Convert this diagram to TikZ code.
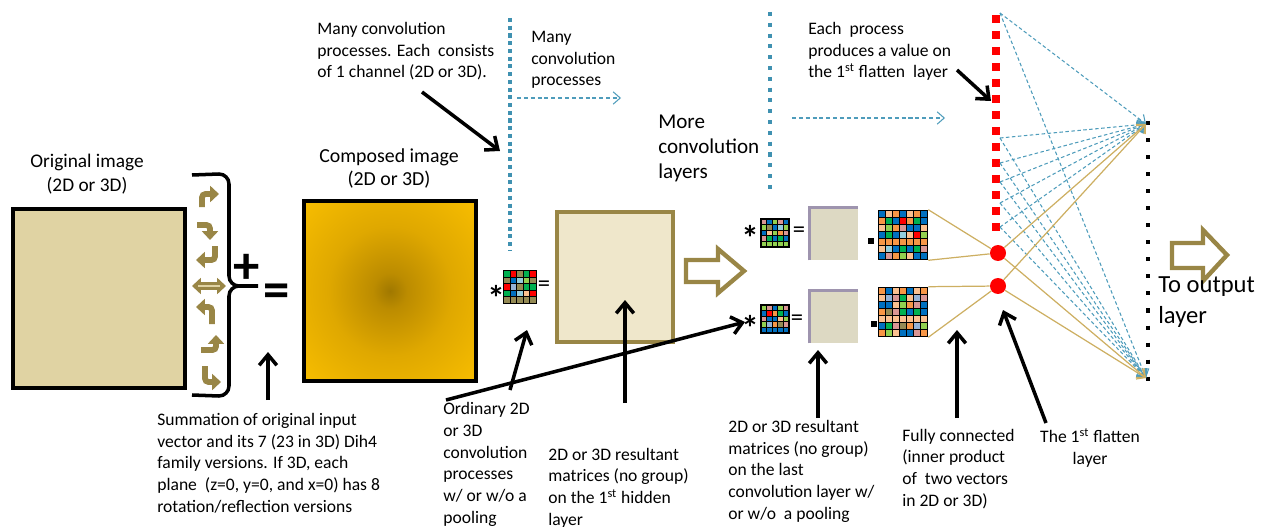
\documentclass[tikz,border=0pt]{standalone}
\usepackage{fontspec}
\setmainfont{Carlito}
\usetikzlibrary{arrows.meta, positioning}

\definecolor{origfill}{HTML}{E0D3A3}
\definecolor{hidfill}{HTML}{EFE7CB}
\definecolor{lastfill}{HTML}{DDD9C3}
\definecolor{lastedge}{HTML}{9E94AE}
\definecolor{olivec}{HTML}{998646}
\definecolor{tanline}{HTML}{CDAF62}
\definecolor{dotblue}{HTML}{3F91B1}
\definecolor{dashblue}{HTML}{4E9CBB}
\definecolor{goldA}{HTML}{A07800}
\definecolor{goldB}{HTML}{BC8C00}
\definecolor{goldC}{HTML}{DFA800}
\definecolor{goldD}{HTML}{F7BD00}
\definecolor{gc0}{HTML}{0070C0}
\definecolor{gc1}{HTML}{00B050}
\definecolor{gc2}{HTML}{D99694}
\definecolor{gc3}{HTML}{948A54}
\definecolor{gc4}{HTML}{F79646}
\definecolor{gc5}{HTML}{95B3D7}
\definecolor{gc6}{HTML}{92D050}
\definecolor{gc7}{HTML}{FF0000}
\definecolor{gc8}{HTML}{FAC090}
\definecolor{gc9}{HTML}{93CDDD}
\definecolor{gc10}{HTML}{0070C0}
\definecolor{gc11}{HTML}{00B050}

\pgfdeclareradialshading{composed}{\pgfpoint{0bp}{0bp}}{color(0bp)=(goldA); color(5bp)=(goldB); color(18bp)=(goldC); color(35bp)=(goldD); color(50bp)=(goldD)}

\tikzstyle{note} = [font=\fontsize{10}{12.3}\selectfont, align=left, inner sep=0pt, anchor=base west]
\tikzstyle{pointer} = [line width=2pt, -{Straight Barb[length=6pt,width=10pt]}]
\tikzstyle{flow} = [dashblue, dash pattern=on 2.3pt off 1.6pt, line width=0.6pt, -{Straight Barb[length=4pt,width=7pt]}]
\tikzstyle{fcdash} = [dashblue, dash pattern=on 2pt off 1.4pt, line width=0.6pt, -{Straight Barb[length=4pt,width=7pt]}]
\tikzstyle{fcline} = [tanline, line width=0.7pt]
\tikzstyle{sqbox} = [draw=black, line width=2.4pt, inner sep=0pt]
\tikzstyle{icon} = [olivec, line width=3.3pt, rounded corners=2pt, -{Triangle[length=5pt,width=9pt]}]

% colour grid: name, centre x, centre y, cells, cell size, seed
\newcommand{\colorgrid}[6]{%
  \pgfmathsetmacro\gridhalf{#4*#5/2}
  \pgfmathsetmacro\gridsize{#4*#5*0.02}
  \foreach \gi in {1,...,#4} {
    \foreach \gj in {1,...,#4} {
      \pgfmathtruncatemacro\gk{mod(\gi*7+\gj*3+\gi*\gj+#6,12)}
      \filldraw[fill=gc\gk, draw=black, line width=0.5pt] ({#2-\gridhalf+(\gi-1)*#5},{#3-\gridhalf+(\gj-1)*#5}) rectangle ++(#5,#5);
    }
  }
  \node[draw=black, line width=0.9pt, inner sep=0pt, minimum size=\gridsize cm] (#1) at (#2,#3) {};
}

\begin{document}
\begin{tikzpicture}[x=0.02cm, y=-0.02cm]
        \useasboundingbox (0,0) rectangle (1265,527);

        % Input and composed image
        \node[sqbox, fill=origfill, minimum width=3.44cm, minimum height=3.58cm] (orig) at (99,298.5) {};
        \node[font=\fontsize{11}{13.7}\selectfont, align=center, inner sep=0pt, anchor=base] (origlbl) at (87,192) {Original image\\(2D or 3D)};
        \node[sqbox, shade, shading=composed, minimum width=3.44cm, minimum height=3.6cm] (comp) at (390,291) {};
        \node[font=\fontsize{11.3}{13.1}\selectfont, align=center, inner sep=0pt, anchor=base] (complbl) at (389,186) {Composed image\\(2D or 3D)};

        % Dih4 family icons
        \draw[icon] (202,207) -- (202,194) -- (219,194);
        \draw[icon] (197,225) -- (210,225) -- (210,240);
        \draw[icon] (215,246) -- (215,260) -- (196,260);
        \draw[olivec, line width=4.5pt, {Triangle[length=5pt,width=9pt]}-{Triangle[length=5pt,width=9pt]}] (192,286) -- (226,286);
        \draw[origfill, line width=1.2pt] (198,286) -- (220,286);
        \draw[icon] (212,324) -- (212,307) -- (196,307);
        \draw[icon] (201,350) -- (216,350) -- (216,335);
        \draw[icon] (205,366) -- (205,382) -- (221,382);

        % Brace, plus and equals
        \draw[line width=2pt] (192,175) -- (219,174) to[out=0,in=90] (229,184) -- (229,276) to[out=-90,in=180] (239,286) -- (258,286);
        \draw[line width=2pt] (239,286) to[out=180,in=90] (229,296) -- (229,386) to[out=-90,in=0] (219,396) -- (192,395);
        \node[font=\fontsize{30}{30}\selectfont\bfseries, inner sep=0pt] (plus) at (247,269) {+};
        \node[font=\fontsize{30}{30}\selectfont\bfseries, inner sep=0pt] (equal) at (277,296) {=};

        % First convolution
        \draw[dotblue, line width=2.3pt, dash pattern=on 2.3pt off 2.1pt] (510,18) -- (510,250);
        \colorgrid{kern0}{520}{287}{5}{6.6}{0}
        \node[font=\fontsize{20}{20}\selectfont\bfseries, inner sep=0pt] (star0) at (496,298) {*};
        \node[font=\fontsize{14}{14}\selectfont, inner sep=0pt] (eq0) at (544,286) {=};
        \node[draw=olivec, line width=2.6pt, fill=hidfill, minimum width=2.32cm, minimum height=2.6cm] (hidden) at (615,277) {};
        \draw[olivec, line width=2.5pt, fill=white] (686,260) -- (718,260) -- (718,249) -- (744,271) -- (718,293) -- (718,282) -- (686,282) -- cycle;

        % Last convolution layer
        \draw[dotblue, line width=2.3pt, dash pattern=on 2.3pt off 3.85pt] (770,12) -- (770,190);
        \colorgrid{kern1}{775}{233}{5}{5.7}{3}
        \colorgrid{kern2}{775}{319}{5}{5.7}{7}
        \node[font=\fontsize{20}{20}\selectfont\bfseries, inner sep=0pt] (star1) at (750,238) {*};
        \node[font=\fontsize{20}{20}\selectfont\bfseries, inner sep=0pt] (star2) at (750,328) {*};
        \node[font=\fontsize{14}{14}\selectfont, inner sep=0pt] (eq1) at (799,232) {=};
        \node[font=\fontsize{14}{14}\selectfont, inner sep=0pt] (eq2) at (797,320) {=};
        \node[fill=lastfill, inner sep=0pt, minimum width=0.96cm, minimum height=1.04cm] (last1) at (834,234) {};
        \node[fill=lastfill, inner sep=0pt, minimum width=0.96cm, minimum height=1.04cm] (last2) at (834,317) {};
        \draw[lastedge, line width=1.6pt] (last1.south west) -- (last1.north west) -- (last1.north east);
        \draw[lastedge, line width=1.6pt] (last2.south west) -- (last2.north west) -- (last2.north east);
        \node[fill=black, inner sep=0pt, minimum size=0.11cm] (dot1) at (871,241) {};
        \node[fill=black, inner sep=0pt, minimum size=0.11cm] (dot2) at (874,324) {};
        \colorgrid{flat1}{903}{235}{7}{7}{1}
        \colorgrid{flat2}{903}{312}{7}{7}{5}

        % Flatten layer and output
        \draw[red, line width=4.5pt, dash pattern=on 4.55pt off 4.55pt] (996,15) -- (996,232);
        \node[circle, fill=red, inner sep=0pt, minimum size=0.32cm] (neu1) at (998,253) {};
        \node[circle, fill=red, inner sep=0pt, minimum size=0.32cm] (neu2) at (998,286) {};
        \draw[black, line width=2.3pt, dash pattern=on 2.3pt off 7.4pt] (1148,121) -- (1148,382);
        \coordinate (outtop) at (1146,124);
        \coordinate (outbot) at (1146,378);
        \foreach \n/\y in {a/13, b/138, c/163, d/182, e/203, f/227}
            \coordinate (fl\n) at (1000,\y);
        \foreach \n in {a,b,c,d,e,f} {
            \draw[fcdash] (fl\n) -- (outtop);
            \draw[fcdash] (fl\n) -- (outbot);
        }
        \draw[fcline] (flat1.north east) -- (neu1);
        \draw[fcline] (flat1.south east) -- (neu1);
        \draw[fcline] (flat2.north east) -- (neu2);
        \draw[fcline] (flat2.south east) -- (neu2);
        \foreach \n in {neu1, neu2} {
            \draw[fcline, -{Straight Barb[length=4pt,width=7pt]}] (\n) -- (outtop);
            \draw[fcline, -{Straight Barb[length=4pt,width=7pt]}] (\n) -- (outbot);
        }
        \draw[olivec, line width=2.5pt, fill=white] (1172,243) -- (1203,243) -- (1203,230) -- (1227,255) -- (1203,281) -- (1203,268) -- (1172,268) -- cycle;

        % Dashed flow arrows
        \coordinate (flowA1) at (517,98);
        \coordinate (flowA2) at (621,98);
        \coordinate (flowB1) at (792,118);
        \coordinate (flowB2) at (945,118);
        \draw[flow] (flowA1) -- (flowA2);
        \draw[flow] (flowB1) -- (flowB2);

        % Notes (anchored at the baseline of their last line)
        \node[note] (manynote) at (317,78) {Many convolution\\processes. Each~ consists\\of 1 channel (2D or 3D).};
        \node[note] (procnote) at (531,86) {Many\\convolution\\processes};
        \node[note, font=\fontsize{12}{14.2}\selectfont] (morenote) at (658,178) {More\\convolution\\layers};
        \node[note] (eachnote) at (808,78) {Each~ process\\produces a value on\\the 1\textsuperscript{st} flatten~ layer};
        \node[note] (sumnote) at (157,512) {Summation of original input\\vector and its 7 (23 in 3D) Dih4\\family versions. If 3D, each\\plane~ (z=0, y=0, and x=0) has 8\\rotation/reflection versions};
        \node[note] (convnote) at (443,523) {Ordinary 2D\\or 3D\\convolution\\processes\\w/ or w/o a\\pooling};
        \node[note] (hidnote) at (548,525) {2D or 3D resultant\\matrices (no group)\\on the 1\textsuperscript{st} hidden\\layer};
        \node[note] (lastnote) at (728,519) {2D or 3D resultant\\matrices (no group)\\on the last\\convolution layer w/\\or w/o~ a pooling};
        \node[note] (fcnote) at (902,506) {Fully connected\\(inner product\\of~ two vectors\\in 2D or 3D)};
        \node[note, align=center, anchor=base] (flatnote) at (1090,464) {The 1\textsuperscript{st} flatten\\layer};
        \node[note, font=\fontsize{14}{17.6}\selectfont] (outnote) at (1158,323) {To output\\layer};

        % Pointers
        \coordinate (p1a) at (422,92);   \coordinate (p1b) at (500,151);
        \coordinate (p2a) at (268,400);  \coordinate (p2b) at (268,352);
        \coordinate (p3a) at (510,390);  \coordinate (p3b) at (527,330);
        \coordinate (p4a) at (446,400);  \coordinate (p4b) at (745,322);
        \coordinate (p5a) at (625,403);  \coordinate (p5b) at (625,300);
        \coordinate (p6a) at (818,418);  \coordinate (p6b) at (818,350);
        \coordinate (p7a) at (957,418);  \coordinate (p7b) at (957,330);
        \coordinate (p8a) at (1046,423); \coordinate (p8b) at (1003,310);
        \coordinate (p9a) at (957,70);   \coordinate (p9b) at (991,101);
        \foreach \p in {1,...,9}
            \draw[pointer] (p\p a) -- (p\p b);
\end{tikzpicture}
\end{document}
